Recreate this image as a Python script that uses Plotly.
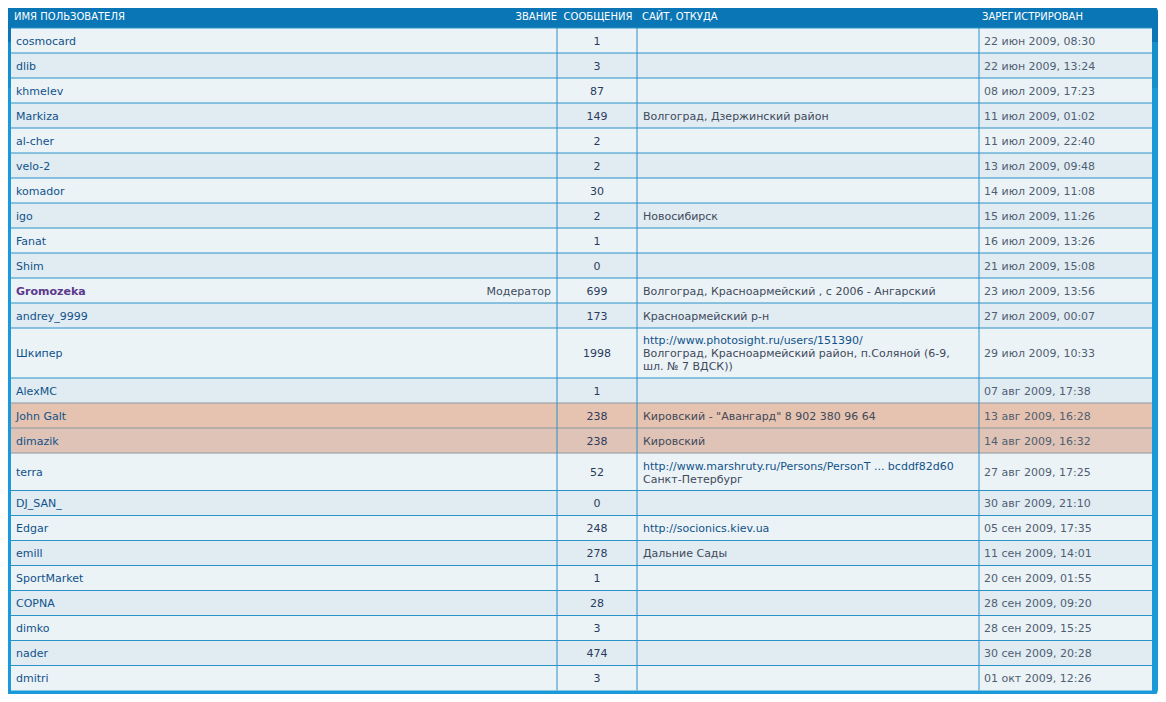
import plotly.graph_objects as go

# ---- table content ----
headers = ["ИМЯ ПОЛЬЗОВАТЕЛЯ", "ЗВАНИЕ", "СООБЩЕНИЯ", "САЙТ, ОТКУДА", "ЗАРЕГИСТРИРОВАН"]

usernames = ["cosmocard", "dlib", "khmelev", "Markiza", "al-cher", "velo-2", "komador",
             "igo", "Fanat", "Shim", "Gromozeka", "andrey_9999", "Шкипер", "AlexMC",
             "John Galt", "dimazik", "terra", "DJ_SAN_", "Edgar", "emill", "SportMarket",
             "COPNA", "dimko", "nader", "dmitri"]

ranks = ["", "", "", "", "", "", "", "", "", "", "Модератор", "", "", "", "", "", "",
         "", "", "", "", "", "", "", ""]

posts = [1, 3, 87, 149, 2, 2, 30, 2, 1, 0, 699, 173, 1998, 1, 238, 238, 52, 0, 248,
         278, 1, 28, 3, 474, 3]

locations = [
    "", "", "", "Волгоград, Дзержинский район", "", "", "", "Новосибирск", "", "",
    "Волгоград, Красноармейский , с 2006 - Ангарский",
    "Красноармейский р-н",
    "http://www.photosight.ru/users/151390/\nВолгоград, Красноармейский район, п.Соляной (6-9,\nшл. № 7 ВДСК))",
    "",
    "Кировский - \"Авангард\" 8 902 380 96 64",
    "Кировский",
    "http://www.marshruty.ru/Persons/PersonT ... bcddf82d60\nСанкт-Петербург",
    "", "http://socionics.kiev.ua", "Дальние Сады", "", "", "", "", "",
]

registered = ["22 июн 2009, 08:30", "22 июн 2009, 13:24", "08 июл 2009, 17:23",
              "11 июл 2009, 01:02", "11 июл 2009, 22:40", "13 июл 2009, 09:48",
              "14 июл 2009, 11:08", "15 июл 2009, 11:26", "16 июл 2009, 13:26",
              "21 июл 2009, 15:08", "23 июл 2009, 13:56", "27 июл 2009, 00:07",
              "29 июл 2009, 10:33", "07 авг 2009, 17:38", "13 авг 2009, 16:28",
              "14 авг 2009, 16:32", "27 авг 2009, 17:25", "30 авг 2009, 21:10",
              "05 сен 2009, 17:35", "11 сен 2009, 14:01", "20 сен 2009, 01:55",
              "28 сен 2009, 09:20", "28 сен 2009, 15:25", "30 сен 2009, 20:28",
              "01 окт 2009, 12:26"]

moderators = ["Gromozeka"]
highlighted = ["John Galt", "dimazik"]

# ---- layout (page pixels) ----
FONT = "DejaVu Sans"
LEFT, RIGHT = 11, 1152          # inner table edges
FRAME_L, FRAME_R, FRAME_T, FRAME_B = 6, 1158, 6, 696
HEAD_B = 28
COL_SEP = [557, 637, 979]
X_NAME, X_RANK, X_POSTS, X_SITE, X_REG = 16, 551, 597, 643, 984
ROW_H, LINE_H = 25, 12.5
DY = 1.5  # text baseline nudge

BG1, BG2 = "#ecf3f7", "#e1ebf2"
HL = ["#e6c3b0", "#dec3b6"]
LINE = "#2a92c8"


def rounded_path(x0, y0, x1, y1, r, bottom=True):
    p = f"M {x0},{y0 + r} Q {x0},{y0} {x0 + r},{y0} L {x1 - r},{y0} Q {x1},{y0} {x1},{y0 + r} "
    if bottom:
        p += f"L {x1},{y1 - r} Q {x1},{y1} {x1 - r},{y1} L {x0 + r},{y1} Q {x0},{y1} {x0},{y1 - r} Z"
    else:
        p += f"L {x1},{y1} L {x0},{y1} Z"
    return p


# row geometry from number of lines in the location cell
n_lines = [max(1, len(s.split("\n"))) for s in locations]
tops, bottoms = [], []
y = HEAD_B
for n in n_lines:
    tops.append(y)
    y += ROW_H + LINE_H * (n - 1)
    bottoms.append(y)
centers = [(a + b) / 2 + DY for a, b in zip(tops, bottoms)]

shapes = [
    dict(type="path", path=rounded_path(FRAME_L, FRAME_T, FRAME_R, FRAME_B, 7),
         fillcolor="#1a9ad8", line_width=0, layer="below"),
    dict(type="path", path=rounded_path(FRAME_L, FRAME_T, FRAME_R, HEAD_B + 14, 7, bottom=False),
         fillcolor="#0a76b5", line_width=0, layer="below"),
    dict(type="rect", x0=FRAME_L, x1=FRAME_R, y0=HEAD_B + 14, y1=HEAD_B + 60,
         fillcolor="#1488c6", line_width=0, layer="below", opacity=0.6),
]

hl_k = 0
for i, name in enumerate(usernames):
    if name in highlighted:
        fill = HL[hl_k % 2]
        hl_k += 1
    else:
        fill = BG1 if i % 2 == 0 else BG2
    shapes.append(dict(type="rect", x0=LEFT, x1=RIGHT, y0=tops[i], y1=bottoms[i],
                       fillcolor=fill, line_width=0, layer="below"))

for i in range(len(usernames)):
    col = LINE
    if usernames[i] in highlighted or (i > 0 and usernames[i - 1] in highlighted):
        col = "#8c98a0"
    shapes.append(dict(type="line", x0=LEFT, x1=RIGHT, y0=tops[i], y1=tops[i],
                       line=dict(color=col, width=1)))
for xs in COL_SEP:
    shapes.append(dict(type="line", x0=xs, x1=xs, y0=HEAD_B, y1=bottoms[-1],
                       line=dict(color=LINE, width=1)))

fig = go.Figure()


def text_trace(xs, ys, texts, pos, color, size=11, bold=False):
    fig.add_trace(go.Scatter(
        x=xs, y=ys, text=[f"<b>{t}</b>" if bold else t for t in texts],
        mode="text", textposition=pos, hoverinfo="skip", showlegend=False,
        textfont=dict(family=FONT, size=size, color=color)))


# header
hy = (FRAME_T + HEAD_B) / 2
text_trace([X_NAME - 2], [hy], [headers[0]], "middle right", "white", 10)
text_trace([X_RANK + 6], [hy], [headers[1]], "middle left", "white", 10)
text_trace([X_POSTS + 1], [hy], [headers[2]], "middle center", "white", 10)
text_trace([X_SITE - 1], [hy], [headers[3]], "middle right", "white", 10)
text_trace([X_REG - 2], [hy], [headers[4]], "middle right", "white", 10)

# usernames
plain = [i for i, n in enumerate(usernames) if n not in moderators]
mods = [i for i, n in enumerate(usernames) if n in moderators]
text_trace([X_NAME] * len(plain), [centers[i] for i in plain],
           [usernames[i] for i in plain], "middle right", "#105289")
text_trace([X_NAME] * len(mods), [centers[i] for i in mods],
           [usernames[i] for i in mods], "middle right", "#5b3a8c", bold=True)

# ranks
rk = [i for i, r in enumerate(ranks) if r]
text_trace([X_RANK] * len(rk), [centers[i] for i in rk],
           [ranks[i] for i in rk], "middle left", "#3d4b5c")

# posts
text_trace([X_POSTS] * len(posts), centers, [str(p) for p in posts],
           "middle center", "#2b3b5b")

# locations, one point per line
lx, ly, lt, ux, uy, ut = [], [], [], [], [], []
for i, s in enumerate(locations):
    if not s:
        continue
    parts = s.split("\n")
    for k, part in enumerate(parts):
        yy = centers[i] + (k - (len(parts) - 1) / 2) * 13
        if part.startswith("http"):
            ux.append(X_SITE); uy.append(yy); ut.append(part)
        else:
            lx.append(X_SITE); ly.append(yy); lt.append(part)
text_trace(lx, ly, lt, "middle right", "#404a5a")
text_trace(ux, uy, ut, "middle right", "#105289")

# registration dates
text_trace([X_REG] * len(registered), centers, registered,
           "middle right", "#4f5f72")

fig.update_layout(
    width=1150, height=686,
    margin=dict(l=0, r=0, t=0, b=0),
    paper_bgcolor="white", plot_bgcolor="white",
    xaxis=dict(range=[8, 1158], visible=False, fixedrange=True),
    yaxis=dict(range=[694, 8], visible=False, fixedrange=True),
    shapes=shapes,
)

fig.write_html("out.html")
